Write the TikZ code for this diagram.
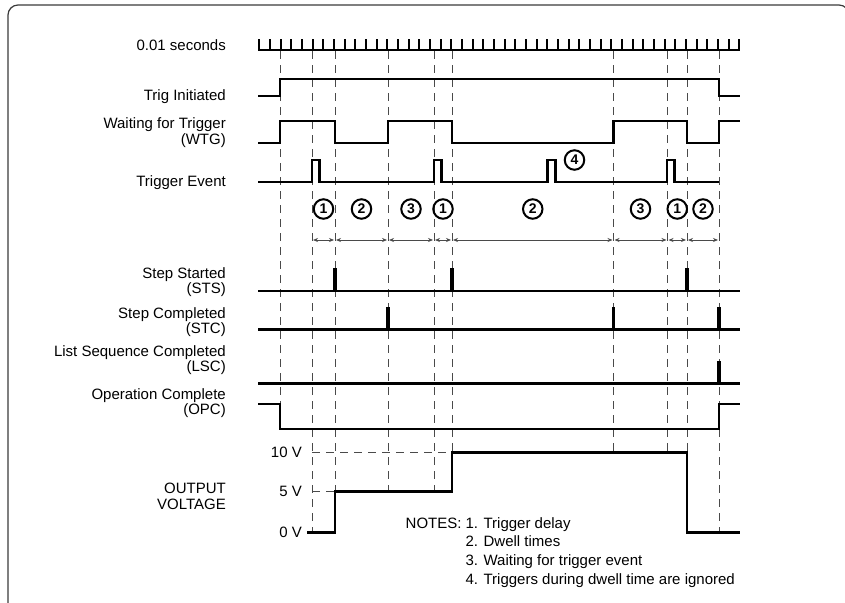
\documentclass[tikz,border=0pt]{standalone}
\usepackage{fontspec}
\setmainfont{Liberation Sans}
\usetikzlibrary{arrows.meta,calc}
\definecolor{guideGray}{HTML}{4A4A4A}
\definecolor{frameGray}{HTML}{3A3A3A}
\newcommand{\labelfont}{\fontsize{15}{15.5}\selectfont}
\newcommand{\notefont}{\fontsize{15}{18.7}\selectfont}
\tikzset{
  frame line/.style={draw=frameGray,line width=1.2pt,rounded corners=10pt},
  tick bar/.style={line width=2pt},
  signal line/.style={line width=2.5pt,line join=miter},
  pulse line/.style={line width=3.4pt},
  guide line/.style={draw=guideGray,line width=1pt,dash pattern=on 8pt off 6pt},
  span arrow/.style={{Stealth[length=5pt,width=4pt]}-{Stealth[length=5pt,width=4pt]},
    draw=guideGray,line width=0.8pt,shorten >=1pt,shorten <=1pt},
  step badge/.style={circle,draw,line width=2pt,inner sep=0pt,minimum size=19.5pt,
    font=\fontsize{14}{14}\selectfont\bfseries},
  signal label/.style={anchor=east,align=right,inner sep=0pt,font=\labelfont},
  volt label/.style={anchor=east,inner sep=0pt,font=\labelfont}
}
\begin{document}
\begin{tikzpicture}[x=1pt,y=-1pt]
  \useasboundingbox (0,0) rectangle (845,602);
  \draw[frame line] (8,650) rectangle (849,5);

  % time base, one tick per 0.01 s
  \draw[tick bar] (259.3,50) -- (739.3,50);
  \foreach \k in {0,...,45}
    \draw[tick bar] ({259.3+\k*10.6667},51) -- ++(0,-12);

  % guides
  \foreach \n/\gx/\gy in {1/280/429,2/312/532.3,3/335/491.7,4/388/491.7,
      5/434/491.7,6/452/452.3,7/613.5/452.3,8/667.5/452.3,9/687/452.3,10/719/532.3}{
    \coordinate (top\n) at (\gx,51);
    \coordinate (span\n) at (\gx,240);
    \draw[guide line] (top\n) -- (\gx,\gy);
  }

  % labels
  \node[signal label] (lblTime) at (226,45) {0.01 seconds};
  \node[signal label] (lblTrig) at (226,97) {Trig Initiated};
  \node[signal label] (lblWtg) at (226,132.5) {Waiting for Trigger\\(WTG)};
  \node[signal label] (lblEvent) at (226,183) {Trigger Event};
  \node[signal label] (lblSts) at (226,282) {Step Started\\(STS)};
  \node[signal label] (lblStc) at (226,322) {Step Completed\\(STC)};
  \node[signal label] (lblLsc) at (226,360) {List Sequence Completed\\(LSC)};
  \node[signal label] (lblOpc) at (226,403) {Operation Complete\\(OPC)};
  \node[signal label] (lblOut) at (226,496.5) {OUTPUT\\VOLTAGE};

  % signals
  \draw[signal line] (258,96) -- (280,96) -- (280,79) -- (719,79) -- (719,96) -- (740,96);
  \draw[signal line] (258,143) -- (280,143) -- (280,121) -- (335,121) -- (335,143)
    -- (388,143) -- (388,121) -- (452,121) -- (452,143) -- (613.5,143) -- (613.5,121)
    -- (687,121) -- (687,143) -- (719,143) -- (719,121) -- (740,121);
  \draw[signal line] (258,182) -- (312,182) -- (312,160) -- (319.5,160) -- (319.5,182)
    -- (434,182) -- (434,160) -- (441.5,160) -- (441.5,182)
    -- (547.5,182) -- (547.5,160) -- (555.5,160) -- (555.5,182)
    -- (667,182) -- (667,160) -- (674.5,160) -- (674.5,182) -- (719,182);
  \node[step badge] (badge4) at (574.5,160) {4};

  \draw[signal line] (258,291) -- (740,291);
  \foreach \px in {335,452,687}
    \draw[pulse line] (\px,291) -- (\px,268);
  \draw[signal line] (258,329.5) -- (740,329.5);
  \foreach \px in {388,613.5,719}
    \draw[pulse line] (\px,329.5) -- (\px,307);
  \draw[signal line] (258,383.5) -- (740,383.5);
  \draw[pulse line] (719,383.5) -- (719,361);
  \draw[signal line] (258,404) -- (280,404) -- (280,429) -- (719,429) -- (719,404) -- (740,404);

  % intervals
  \foreach \a/\b/\num in {2/3/1,3/4/2,4/5/3,5/6/1,6/7/2,7/8/3,8/9/1,9/10/2}{
    \draw[span arrow] (span\a) -- (span\b);
    \node[step badge] (badge\a) at ($(span\a)!0.5!(span\b)+(0,-31)$) {\num};
  }

  % output voltage
  \node[volt label] (volt10) at (302,452.3) {10 V};
  \node[volt label] (volt5) at (302,491.7) {5 V};
  \node[volt label] (volt0) at (302,532.3) {0 V};
  \draw[guide line] (312,452.3) -- (452,452.3);
  \draw[guide line] (312,491.7) -- (335,491.7);
  \draw[signal line] (307,532.3) -- (335,532.3) -- (335,491.7) -- (452,491.7)
    -- (452,452.3) -- (687,452.3) -- (687,532.3) -- (740,532.3);

  \node[anchor=north west,inner sep=0pt,font=\notefont] (notes) at (405.5,515) {%
    \begin{tabular}{@{}l@{\hspace{4pt}}l@{}}
      NOTES: & 1. Trigger delay\\
             & 2. Dwell times\\
             & 3. Waiting for trigger event\\
             & 4. Triggers during dwell time are ignored
    \end{tabular}};
\end{tikzpicture}
\end{document}
